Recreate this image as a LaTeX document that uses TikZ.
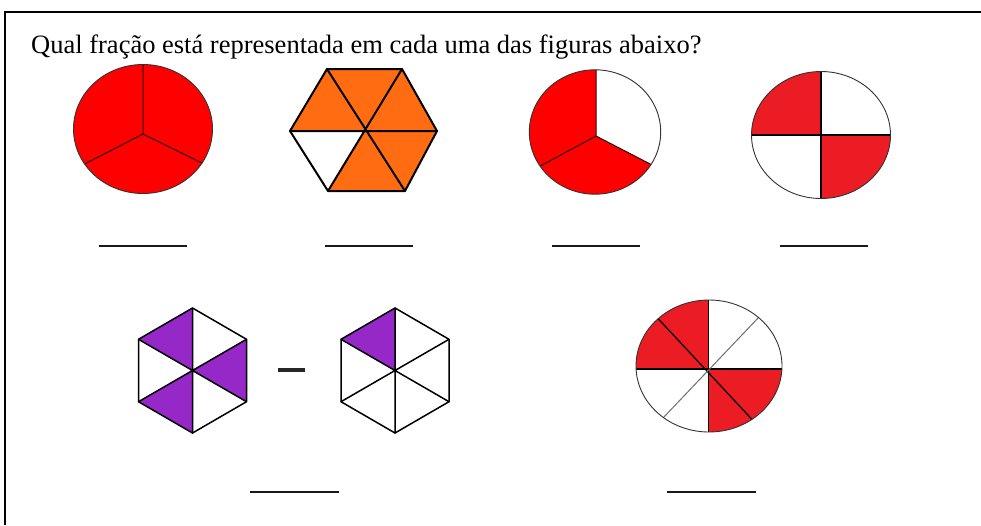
\documentclass[tikz,border=0pt]{standalone}
\usepackage{fontspec}
\setmainfont{Liberation Serif}
\newfontfamily\titlefont{Liberation Serif}
\definecolor{pureRed}{RGB}{255,0,0}
\definecolor{wordRed}{RGB}{236,28,36}
\definecolor{hexOrange}{RGB}{255,108,18}
\definecolor{hexPurple}{RGB}{150,40,200}
\definecolor{spokeGray}{RGB}{110,110,110}
\tikzset{
  frameline/.style={line width=2.4pt, black},
  blankline/.style={line width=2pt, black!90},
  thinspoke/.style={line width=1pt, black!85!red},
  outline/.style={line width=0.9pt, black!80},
  hexline/.style={line width=2pt, black, line join=round, line cap=round},
  hexthin/.style={line width=1.5pt, black, line join=round, line cap=round},
  pieline/.style={line width=1.3pt, black},
}
\begin{document}
\begin{tikzpicture}[x=1pt,y=-1pt]
\useasboundingbox (0,0) rectangle (981,525);
% frame
\draw[frameline] (5,525) -- (5,12) -- (981,12);
% title
\node[anchor=base west, inner sep=0pt, font=\titlefont\fontsize{26.5}{30}\selectfont] (title) at (31,53) {Qual fração está representada em cada uma das figuras abaixo?};

% ---- figure 1: full circle in thirds
\fill[pureRed] (143,129) ellipse [x radius=69.5pt, y radius=64.5pt];
\begin{scope}
  \clip (143,129) ellipse [x radius=69.5pt, y radius=64.5pt];
  \draw[thinspoke] (143,134) -- (143,55) (143,134) -- (71,171) (143,134) -- (216,170);
\end{scope}
\draw[outline] (143,129) ellipse [x radius=69.5pt, y radius=64.5pt];

% ---- figure 2: orange hexagon
\coordinate (hTL) at (327,69);
\coordinate (hTR) at (402,69);
\coordinate (hR) at (437,131);
\coordinate (hBR) at (405,191);
\coordinate (hBL) at (328,191);
\coordinate (hL) at (290,131);
\coordinate (hC) at (364,131);
\fill[hexOrange] (hTL) -- (hTR) -- (hR) -- (hBR) -- (hBL) -- (hL) -- cycle;
\fill[white] (hL) -- (hC) -- (hBL) -- cycle;
\draw[hexline] (hTL) -- (hBR) (hTR) -- (hBL) (hL) -- (hR);
\draw[hexline] (hTL) -- (hTR) -- (hR) -- (hBR) -- (hBL) -- (hL) -- cycle;

% ---- figure 3: two thirds of a circle
\fill[pureRed] (595,132) ellipse [x radius=65.7pt, y radius=62.2pt];
\begin{scope}
  \clip (595,132) ellipse [x radius=65.7pt, y radius=62.2pt];
  \fill[white] (596,136) -- (596,50) -- (720,50) -- (712,196) -- cycle;
  \draw[thinspoke] (596,136) -- (596,60) (596,136) -- (712,196) (596,136) -- (520,177);
\end{scope}
\draw[outline] (595,132) ellipse [x radius=65.7pt, y radius=62.2pt];

% ---- figure 4: quarters
\begin{scope}
  \clip (821,135) ellipse [x radius=69.5pt, y radius=63.5pt];
  \fill[wordRed] (740,60) rectangle (821,135);
  \fill[wordRed] (821,135) rectangle (900,210);
  \draw[pieline] (740,135) -- (900,135) (821,60) -- (821,210);
\end{scope}
\draw[outline] (821,135) ellipse [x radius=69.5pt, y radius=63.5pt];

% ---- blanks row 1
\draw[blankline] (98.5,245.5) -- (186.5,245.5);
\draw[blankline] (325,245.5) -- (413,245.5);
\draw[blankline] (552,245.5) -- (640,245.5);
\draw[blankline] (779.5,245.5) -- (867.5,245.5);

% ---- hexagon A (3/6 purple)
\coordinate (aC) at (192.5,370.5);
\coordinate (aT) at (192.5,308);
\coordinate (aUL) at (138.5,339.3);
\coordinate (aUR) at (246.5,339.3);
\coordinate (aLL) at (138.5,401.7);
\coordinate (aLR) at (246.5,401.7);
\coordinate (aB) at (192.5,433);
\fill[hexPurple] (aT) -- (aUL) -- (aC) -- cycle;
\fill[hexPurple] (aUR) -- (aLR) -- (aC) -- cycle;
\fill[hexPurple] (aLL) -- (aB) -- (aC) -- cycle;
\draw[hexthin] (aC) -- (aT) (aC) -- (aUL) (aC) -- (aUR) (aC) -- (aLL) (aC) -- (aLR) (aC) -- (aB);
\draw[hexthin] (aT) -- (aUR) -- (aLR) -- (aB) -- (aLL) -- (aUL) -- cycle;

% minus sign
\draw[line width=3.5pt, black!85] (278,370) -- (305,370);

% ---- hexagon B (1/6 purple)
\coordinate (bC) at (395,370.5);
\coordinate (bT) at (395,308);
\coordinate (bUL) at (341,339.3);
\coordinate (bUR) at (449,339.3);
\coordinate (bLL) at (341,401.7);
\coordinate (bLR) at (449,401.7);
\coordinate (bB) at (395,433);
\fill[hexPurple] (bT) -- (bUL) -- (bC) -- cycle;
\draw[hexthin] (bC) -- (bT) (bC) -- (bUL) (bC) -- (bUR) (bC) -- (bLL) (bC) -- (bLR) (bC) -- (bB);
\draw[hexthin] (bT) -- (bUR) -- (bLR) -- (bB) -- (bLL) -- (bUL) -- cycle;

% ---- figure 7: eighths
\begin{scope}
  \clip (709,366) ellipse [x radius=73pt, y radius=66pt];
  \fill[wordRed] (630,290) rectangle (708.5,369);
  \fill[wordRed] (708.5,369) rectangle (790,445);
  \draw[pieline] (708.5,290) -- (708.5,445) (630,369) -- (790,369);
  \draw[pieline] (649.1,309) -- (764.3,432.6);
  \draw[line width=1pt, spokeGray] (765.5,310.2) -- (649.1,432.6);
\end{scope}
\draw[outline] (709,366) ellipse [x radius=73pt, y radius=66pt];

% ---- blanks row 2
\draw[blankline] (250,492) -- (338.5,492);
\draw[blankline] (667,492) -- (756,492);
\end{tikzpicture}
\end{document}
